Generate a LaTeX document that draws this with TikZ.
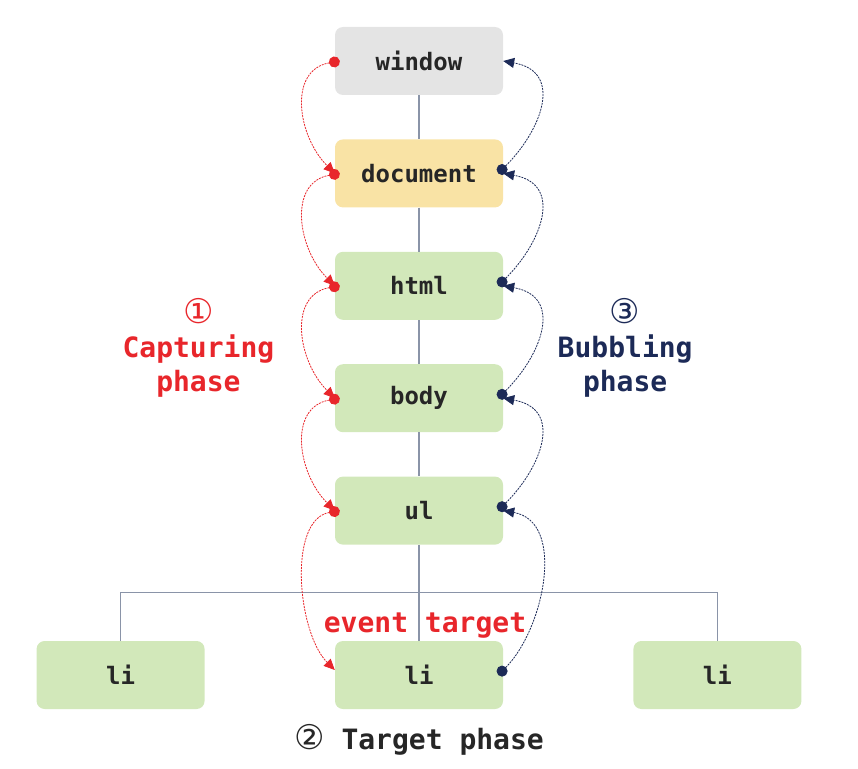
\documentclass[tikz,border=0pt]{standalone}
\usepackage{fontspec}
\setmonofont{DejaVu Sans Mono}
\newfontfamily\circfont{DejaVu Sans}
\usetikzlibrary{arrows.meta,positioning,calc}

\definecolor{leaf}{HTML}{D2E8BA}
\definecolor{sand}{HTML}{F9E3A5}
\definecolor{stone}{HTML}{E4E4E4}
\definecolor{capred}{HTML}{E8262B}
\definecolor{bubnavy}{HTML}{1C2A57}
\definecolor{edgegray}{HTML}{8A94A8}
\definecolor{ink}{HTML}{262626}

\newcommand{\circnum}[1]{{\circfont\mdseries\fontsize{34}{34}\selectfont #1}}

\begin{document}
\begin{tikzpicture}[
  node distance=44pt,
  elem/.style={rounded corners=8pt, align=center, minimum width=168pt,
    minimum height=68pt, fill=leaf, text=ink,
    font=\ttfamily\bfseries\fontsize{24}{28}\selectfont},
  tree/.style={draw=edgegray, line width=1.1pt},
  capture/.style={draw=capred, line width=0.8pt, dash pattern=on 2pt off 1pt,
    {Circle[length=11pt]}-{Triangle[length=11pt,width=10pt]}},
  bubble/.style={draw=bubnavy, line width=0.8pt, dash pattern=on 2pt off 1pt,
    {Circle[length=11pt]}-{Triangle[length=11pt,width=10pt]}},
  phaselabel/.style={align=center, font=\ttfamily\bfseries\fontsize{28}{34}\selectfont}
]
\useasboundingbox (-419pt,61pt) rectangle (439pt,-707pt);

\node[elem, fill=stone] (window) at (0,0) {window};
\node[elem, fill=sand, below=of window] (document) {document};
\node[elem, below=of document] (html) {html};
\node[elem, below=of html] (body) {body};
\node[elem, below=of body] (ul) {ul};
\node[elem, below=96pt of ul] (li) {li};
\node[elem, left=130pt of li] (lileft) {li};
\node[elem, right=130pt of li] (liright) {li};

% tree
\draw[tree] (window) -- (document);
\draw[tree] (document) -- (html);
\draw[tree] (html) -- (body);
\draw[tree] (body) -- (ul);
\draw[tree] (ul) -- (li);
\coordinate (bar) at ($(ul.south)!0.5!(li.north)$);
\draw[tree] (lileft.north) |- (bar) -| (liright.north);

% capturing
\draw[capture] ([xshift=5pt]window.west) to[out=190, in=135, looseness=1.2] (document.west);
\draw[capture] ([xshift=5pt]document.west) to[out=190, in=135, looseness=1.2] (html.west);
\draw[capture] ([xshift=5pt]html.west) to[out=190, in=135, looseness=1.2] (body.west);
\draw[capture] ([xshift=5pt]body.west) to[out=190, in=135, looseness=1.2] (ul.west);
\draw[capture] ([xshift=5pt]ul.west) to[out=190, in=135, looseness=0.85] ([yshift=5pt]li.west);

% bubbling
\draw[bubble] ([xshift=-5pt]li.east) to[out=45, in=-10, looseness=1.0] (ul.east);
\draw[bubble] ([xshift=-5pt]ul.east) to[out=45, in=-10, looseness=1.4] (body.east);
\draw[bubble] ([xshift=-5pt]body.east) to[out=45, in=-10, looseness=1.4] (html.east);
\draw[bubble] ([xshift=-5pt]html.east) to[out=45, in=-10, looseness=1.4] (document.east);
\draw[bubble] ([xshift=-5pt]document.east) to[out=45, in=-10, looseness=1.4] (window.east);

% labels
\node[phaselabel, text=capred, anchor=east, xshift=-57pt, yshift=-6pt] (caplabel)
  at ($(html.west)!0.5!(body.west)$) {\circnum{①}\\Capturing\\phase};
\node[phaselabel, text=bubnavy, anchor=west, xshift=51pt, yshift=-6pt] (bublabel)
  at ($(html.east)!0.5!(body.east)$) {\circnum{③}\\Bubbling\\phase};
\node[phaselabel, text=capred, inner sep=2pt, above=0pt of li, xshift=6pt] (targetlabel)
  {event target};
\node[phaselabel, text=ink, below=12pt of li] (targetphase)
  {\circnum{②} Target phase};
\end{tikzpicture}
\end{document}
